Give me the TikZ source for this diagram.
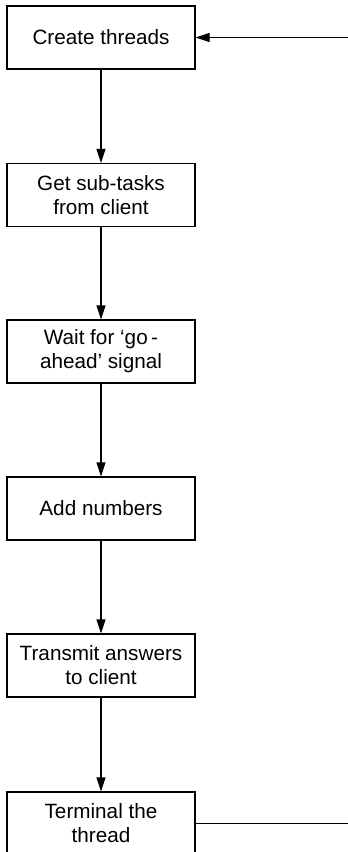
\documentclass[tikz,border=0pt]{standalone}
\usepackage{fontspec}
\setmainfont{Liberation Sans}
\usetikzlibrary{arrows.meta}
\begin{document}
\begin{tikzpicture}[x=1pt,y=-1pt,
  stepbox/.style={draw, line width=1.2pt, minimum width=188pt, minimum height=63pt,
    inner sep=0pt, align=center, font=\fontsize{20.7}{24}\selectfont},
  flow/.style={line width=1.2pt, -{Triangle[length=14pt,width=9pt]}},
  plain/.style={line width=1.2pt}]
\useasboundingbox (0,0) rectangle (348,852);
\clip (0,0) rectangle (348,852);
\node[stepbox] (s1) at (101,37.5) {Create threads};
\node[stepbox] (s2) at (101,195) {Get sub-tasks\\from client};
\node[stepbox] (s3) at (101,351.5) {Wait for ‘go\,-\\ahead’ signal};
\node[stepbox] (s4) at (101,508.5) {Add numbers};
\node[stepbox] (s5) at (101,665.5) {Transmit answers\\to client};
\node[stepbox] (s6) at (101,823.5) {Terminal the\\thread};
\coordinate (r1) at (349,37.5);
\coordinate (r6) at (349,823.5);
\draw[flow] (s1) -- (s2);
\draw[flow] (s2) -- (s3);
\draw[flow] (s3) -- (s4);
\draw[flow] (s4) -- (s5);
\draw[flow] (s5) -- (s6);
\draw[flow] (r1) -- (s1);
\draw[plain] (s6) -- (r6);
\end{tikzpicture}
\end{document}
